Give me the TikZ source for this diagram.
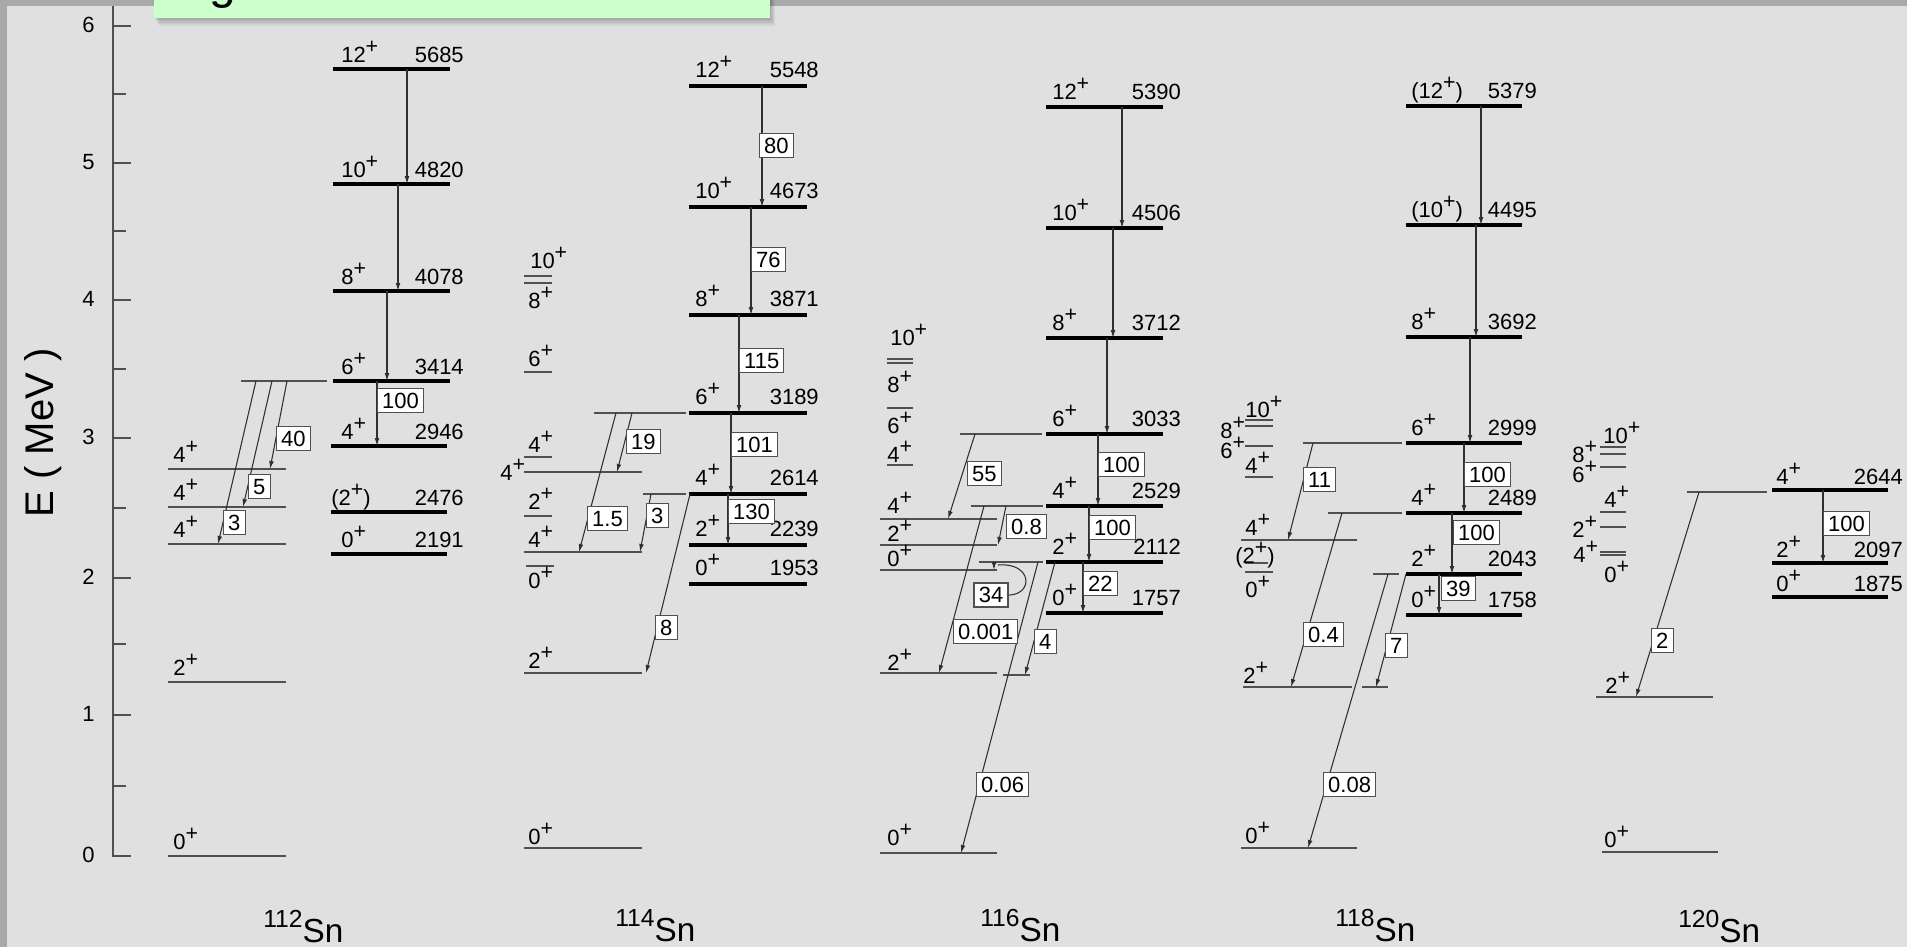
\documentclass[tikz,border=0pt]{standalone}
\usepackage{graphicx}
\usepackage{fontspec}
\setmainfont{Liberation Sans}
\usetikzlibrary{arrows.meta}
\definecolor{bg}{HTML}{E0E0E0}
\definecolor{strip}{HTML}{A9A9A9}
\definecolor{lvl}{HTML}{505050}
\definecolor{arr}{HTML}{303030}
\definecolor{boxc}{HTML}{505050}
\definecolor{tg}{HTML}{CCFFCC}
\newcommand\lf{\fontsize{16.5}{16.5}\selectfont}
\newcommand\Pp{\raisebox{0.40em}{\scalebox{0.97}{+}}}
\newcommand\SnL[1]{{\fontsize{18.5}{18.5}\selectfont\raisebox{11pt}{#1}}Sn}
\newcounter{nn}
\newcommand\SL[3]{\stepcounter{nn}\node[sl] (n\arabic{nn}) at (#1,#2) {#3};}
\newcommand\EL[3]{\stepcounter{nn}\node[el] (n\arabic{nn}) at (#1,#2) {#3};}
\newcommand\BX[3]{\stepcounter{nn}\node[ibox] (n\arabic{nn}) at (#1,#2) {#3};}
\newcommand\HL[3]{\draw[thinlev] (#1,#3) -- (#2,#3);}
\newcommand\TL[3]{\draw[thicklev] (#1,#3) -- (#2,#3);}
\newcommand\TR[4]{\draw[tr] (#1,#2) -- (#3,#4);}
\newcommand\ML[3]{\TL{\cxa}{\cxb}{#1}\SL{\csx}{#1-\cof}{#2}\EL{\cex}{#1-\cof}{#3}}
\tikzset{
 thinlev/.style={draw=lvl, line width=1.2pt},
 thicklev/.style={draw=black, line width=2.7pt},
 tr/.style={draw=arr, line width=0.8pt, -{Latex[length=6pt,width=3.6pt]}},
 ibox/.style={draw=boxc, fill=white, line width=0.8pt, font=\lf, inner xsep=3.5pt, inner ysep=3pt, text height=11.8pt, text depth=0pt, anchor=north west},
 sl/.style={font=\lf, anchor=base west, inner sep=0pt},
 el/.style={font=\lf, anchor=base east, inner sep=0pt},
 tick/.style={draw=lvl, line width=1.1pt},
 ticklab/.style={font=\lf, anchor=base east, inner sep=0pt},
 snlab/.style={font=\fontsize{25}{25}\selectfont, anchor=base west, inner sep=0pt}
}
\begin{document}
\begin{tikzpicture}[x=0.75pt, y=-0.75pt]
\useasboundingbox (0,0) rectangle (1907,947);
\fill[bg] (0,0) rectangle (1907,947);
\fill[strip] (0,0) rectangle (1907,6);
\fill[strip] (0,0) rectangle (7,947);
% title box with shadow
\foreach \i in {1,...,5} {\fill[black, opacity=0.05] (154+\i,0) rectangle (770+\i,18+1.6*\i);}
\fill[tg] (154,0) rectangle (770,18);
\begin{scope}
\clip (154,0) rectangle (770,18);
\node[anchor=base west, inner sep=0pt, font=\fontsize{36}{36}\selectfont] (gt) at (209,-2) {g};
\end{scope}
% axis
\draw[tick] (113,6) -- (113,856) -- (131,856);
\foreach \yy/\lab in {715/1,578/2,438/3,300/4,163/5,26/6} {\draw[tick] (113,\yy) -- (131,\yy);}
\foreach \yy in {786,644,508,369,231,94} {\draw[tick] (113,\yy) -- (126,\yy);}
\node[ticklab] (t0) at (95,862) {0};
\node[ticklab] (t1) at (95,721) {1};
\node[ticklab] (t2) at (95,584) {2};
\node[ticklab] (t3) at (95,444) {3};
\node[ticklab] (t4) at (95,306) {4};
\node[ticklab] (t5) at (95,169) {5};
\node[ticklab] (t6) at (95,32) {6};
\node[rotate=90, anchor=base, inner sep=0pt, font=\fontsize{30}{30}\selectfont] (ylab) at (53,433) {E ( MeV )};
% isotope labels
\node[snlab] (sn112) at (263,942) {\SnL{112}};
\node[snlab] (sn114) at (615,941) {\SnL{114}};
\node[snlab] (sn116) at (980,941) {\SnL{116}};
\node[snlab] (sn118) at (1335,941) {\SnL{118}};
\node[snlab] (sn120) at (1678,942) {\SnL{120}};

% ================= 112Sn
\HL{168}{286}{856}\HL{168}{286}{682}\HL{168}{286}{544}\HL{168}{286}{507}\HL{168}{286}{469}
\SL{173}{849}{0\Pp}\SL{173}{675}{2\Pp}\SL{173}{537}{4\Pp}\SL{173}{500}{4\Pp}\SL{173}{462}{4\Pp}
\HL{241}{327}{381}
\def\cxa{333}\def\cxb{450}\def\csx{341}\def\cex{464}\def\cof{7}
\ML{69}{12\Pp}{5685}
\ML{184}{10\Pp}{4820}
\ML{291}{8\Pp}{4078}
\ML{381}{6\Pp}{3414}
\def\cxa{331}\def\cxb{447}
\ML{446}{4\Pp}{2946}
\TL{331}{447}{512}\SL{331}{505}{(2\Pp)}\EL{464}{505}{2476}
\ML{554}{0\Pp}{2191}
\TR{407}{69}{407}{184}\TR{398}{184}{398}{291}\TR{387}{291}{387}{381}\TR{377}{381}{377}{446}
\TR{287}{381}{270}{469}\TR{272}{381}{243}{507}\TR{256}{381}{218}{544}
\BX{377}{388}{100}\BX{276}{426}{40}\BX{248}{474}{5}\BX{223}{510}{3}

% ================= 114Sn
\HL{524}{642}{472}\HL{524}{642}{552}\HL{524}{642}{673}\HL{524}{642}{848}
\HL{524}{552}{276}\HL{524}{552}{283}\HL{524}{552}{372}\HL{524}{552}{457}\HL{524}{552}{516}\HL{526}{554}{566}
\SL{530}{268}{10\Pp}\SL{528}{308}{8\Pp}\SL{528}{366}{6\Pp}\SL{528}{452}{4\Pp}\SL{500}{480}{4\Pp}\SL{528}{509}{2\Pp}\SL{528}{547}{4\Pp}\SL{528}{588}{0\Pp}\SL{528}{668}{2\Pp}\SL{528}{844}{0\Pp}
\HL{594}{686}{413}\HL{643}{686}{494}
\def\cxa{689}\def\cxb{807}\def\csx{695}\def\cex{819}\def\cof{8.5}
\ML{86}{12\Pp}{5548}
\ML{207}{10\Pp}{4673}
\ML{315}{8\Pp}{3871}
\ML{413}{6\Pp}{3189}
\ML{494}{4\Pp}{2614}
\ML{545}{2\Pp}{2239}
\ML{584}{0\Pp}{1953}
\TR{762}{86}{762}{207}\TR{751}{207}{751}{315}\TR{739}{315}{739}{413}\TR{731}{413}{731}{494}\TR{728}{494}{728}{545}
\TR{632}{413}{617}{472}\TR{616}{413}{579}{552}\TR{651}{494}{640}{552}\TR{690}{494}{646}{673}
\BX{759}{133}{80}\BX{751}{247}{76}\BX{739}{348}{115}\BX{731}{432}{101}\BX{728}{499}{130}\BX{626}{429}{19}\BX{587}{506}{1.5}\BX{646}{503}{3}\BX{655}{615}{8}

% ================= 116Sn
\HL{880}{997}{519}\HL{880}{997}{545}\HL{880}{997}{570}\HL{880}{997}{673}\HL{880}{997}{853}
\HL{887}{913}{359}\HL{887}{913}{363}\HL{887}{913}{408}\HL{887}{913}{465}
\SL{890}{345}{10\Pp}\SL{887}{392}{8\Pp}\SL{887}{433}{6\Pp}\SL{887}{462}{4\Pp}\SL{887}{513}{4\Pp}\SL{887}{541}{2\Pp}\SL{887}{566}{0\Pp}\SL{887}{670}{2\Pp}\SL{887}{845}{0\Pp}
\HL{960}{1042}{434}\HL{971}{1043}{506}\HL{979}{1043}{562}\HL{1003}{1030}{675}
\def\cxa{1046}\def\cxb{1163}\def\csx{1052}\def\cex{1181}\def\cof{8}
\ML{107}{12\Pp}{5390}
\ML{228}{10\Pp}{4506}
\ML{338}{8\Pp}{3712}
\ML{434}{6\Pp}{3033}
\ML{506}{4\Pp}{2529}
\ML{562}{2\Pp}{2112}
\ML{613}{0\Pp}{1757}
\TR{1122}{107}{1122}{228}\TR{1113}{228}{1113}{338}\TR{1107}{338}{1107}{434}\TR{1098}{434}{1098}{506}\TR{1089}{506}{1089}{562}\TR{1083}{562}{1083}{613}
\TR{975}{434}{948}{519}\TR{984}{506}{939}{673}\TR{1006}{506}{998}{545}\TR{994}{562}{994}{570}\TR{1038}{562}{961}{853}\TR{1055}{562}{1025}{675}
\BX{1098}{452}{100}\BX{1089}{515}{100}\BX{1083}{571}{22}\BX{967}{461}{55}\BX{953}{619}{0.001}\BX{1006}{514}{0.8}\BX{1034}{629}{4}\BX{976}{772}{0.06}
\node[ibox, line width=1.8pt] (b34) at (973,582) {34};
\draw[draw=arr, line width=0.8pt] (998,565) .. controls (1032,562) and (1034,594) .. (b34.east);

% ================= 118Sn
\HL{1241}{1357}{540}\HL{1243}{1352}{687}\HL{1241}{1357}{848}\HL{1362}{1388}{687}
\HL{1245}{1273}{420}\HL{1245}{1273}{426}\HL{1245}{1273}{446}\HL{1245}{1273}{477}\HL{1245}{1268}{563}\HL{1245}{1273}{572}
\SL{1245}{417}{10\Pp}\SL{1220}{438}{8\Pp}\SL{1220}{458}{6\Pp}\SL{1245}{473}{4\Pp}\SL{1245}{535}{4\Pp}\SL{1235}{563}{(2\Pp)}\SL{1245}{597}{0\Pp}\SL{1243}{683}{2\Pp}\SL{1245}{843}{0\Pp}
\HL{1303}{1402}{443}\HL{1328}{1402}{513}\HL{1373}{1399}{574}
\def\cxa{1406}\def\cxb{1522}\def\csx{1411}\def\cex{1537}\def\cof{8}
\ML{106}{(12\Pp)}{5379}
\ML{225}{(10\Pp)}{4495}
\ML{337}{8\Pp}{3692}
\ML{443}{6\Pp}{2999}
\ML{513}{4\Pp}{2489}
\ML{574}{2\Pp}{2043}
\ML{615}{0\Pp}{1758}
\TR{1481}{106}{1481}{225}\TR{1476}{225}{1476}{337}\TR{1470}{337}{1470}{443}\TR{1464}{443}{1464}{513}\TR{1452}{513}{1452}{574}\TR{1439}{574}{1439}{615}
\TR{1313}{443}{1288}{540}\TR{1342}{513}{1291}{687}\TR{1388}{574}{1308}{848}\TR{1406}{574}{1376}{687}
\BX{1464}{462}{100}\BX{1453}{520}{100}\BX{1441}{576}{39}\BX{1303}{467}{11}\BX{1303}{622}{0.4}\BX{1323}{772}{0.08}\BX{1385}{633}{7}

% ================= 120Sn
\HL{1596}{1713}{697}\HL{1602}{1718}{852}
\HL{1600}{1626}{447}\HL{1600}{1626}{454}\HL{1600}{1626}{467}\HL{1600}{1626}{512}\HL{1600}{1626}{527}\HL{1600}{1626}{552}\HL{1600}{1626}{555}
\SL{1603}{443}{10\Pp}\SL{1572}{462}{8\Pp}\SL{1572}{482}{6\Pp}\SL{1604}{507}{4\Pp}\SL{1572}{537}{2\Pp}\SL{1573}{562}{4\Pp}\SL{1604}{582}{0\Pp}\SL{1605}{693}{2\Pp}\SL{1604}{847}{0\Pp}
\HL{1687}{1767}{492}
\def\cxa{1772}\def\cxb{1888}\def\csx{1776}\def\cex{1903}\def\cof{6}
\ML{490}{4\Pp}{2644}
\ML{563}{2\Pp}{2097}
\ML{597}{0\Pp}{1875}
\TR{1823}{490}{1823}{563}\TR{1699}{492}{1636}{697}
\BX{1823}{511}{100}\BX{1651}{628}{2}
\end{tikzpicture}
\end{document}
